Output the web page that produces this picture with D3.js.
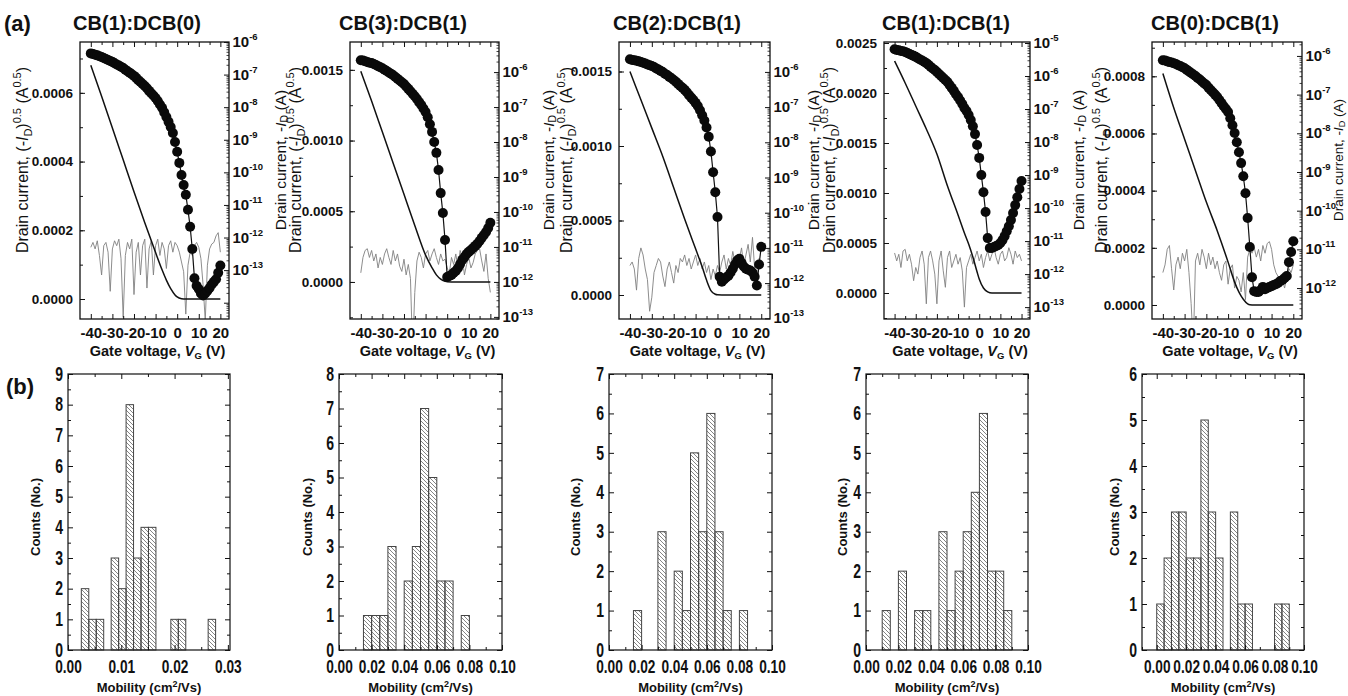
<!DOCTYPE html>
<html>
<head>
<meta charset="utf-8">
<script src="https://cdn.jsdelivr.net/npm/d3@7"></script>
<style>
  body { margin: 0; background: #fff; }
  svg { display: block; font-family: "Liberation Sans", Arial, sans-serif; }
</style>
</head>
<body>
<svg id="fig" width="1348" height="696"></svg>
<script>
// ---- data ----
const panelTitles = ['CB(1):DCB(0)', 'CB(3):DCB(1)', 'CB(2):DCB(1)', 'CB(1):DCB(1)', 'CB(0):DCB(1)'];

// gate sweep, V
const gateVoltage = [-40,-39,-38,-37,-36,-35,-34,-33,-32,-31,-30,-29,-28,-27,-26,-25,-24,-23,-22,-21,
  -20,-19,-18,-17,-16,-15,-14,-13,-12,-11,-10,-9,-8,-7,-6,-5,-4,-3,-2,-1,
  0,1,2,3,4,5,6,7,8,9,10,11,12,13,14,15,16,17,18,19,20];

// log10(-ID), circles, right axis
const logDrain1 = [-6.35,-6.37,-6.39,-6.41,-6.44,-6.46,-6.49,-6.52,-6.55,-6.58,
  -6.61,-6.65,-6.69,-6.72,-6.76,-6.80,-6.85,-6.90,-6.94,-6.99,
  -7.04,-7.10,-7.17,-7.23,-7.29,-7.35,-7.42,-7.50,-7.57,-7.64,
  -7.72,-7.81,-7.92,-8.02,-8.16,-8.30,-8.45,-8.61,-8.79,-9.07,
  -9.37,-9.71,-10.08,-10.39,-10.69,-11.15,-11.67,-12.35,-13.25,-13.48,
  -13.58,-13.72,-13.78,-13.72,-13.63,-13.55,-13.44,-13.36,-13.28,-13.08,-12.86];
const logDrain2 = [-5.66,-5.67,-5.69,-5.71,-5.73,-5.74,-5.77,-5.80,-5.83,-5.86,
  -5.89,-5.93,-5.97,-6.01,-6.05,-6.09,-6.14,-6.19,-6.24,-6.29,
  -6.34,-6.41,-6.48,-6.55,-6.62,-6.69,-6.77,-6.86,-6.94,-7.04,
  -7.14,-7.29,-7.49,-7.71,-8.00,-8.31,-8.80,-9.46,-10.03,-10.80,
  -11.86,-11.83,-11.80,-11.74,-11.69,-11.60,-11.49,-11.37,-11.29,-11.20,
  -11.14,-11.09,-11.03,-10.97,-10.91,-10.83,-10.74,-10.66,-10.57,-10.46,-10.31];
const logDrain3 = [-5.64,-5.66,-5.67,-5.68,-5.70,-5.72,-5.74,-5.76,-5.79,-5.81,
  -5.83,-5.86,-5.90,-5.93,-5.97,-6.00,-6.05,-6.09,-6.14,-6.18,
  -6.23,-6.28,-6.34,-6.40,-6.45,-6.51,-6.58,-6.66,-6.73,-6.80,
  -6.88,-6.97,-7.09,-7.23,-7.38,-7.58,-7.84,-8.26,-8.85,-9.42,
  -10.12,-11.82,-11.96,-11.90,-11.84,-11.79,-11.70,-11.59,-11.47,-11.36,
  -11.31,-11.42,-11.53,-11.59,-11.62,-11.64,-11.70,-11.82,-12.07,-11.47,-10.97];
const logDrain4 = [-5.19,-5.21,-5.22,-5.24,-5.25,-5.27,-5.30,-5.33,-5.36,-5.39,
  -5.42,-5.46,-5.50,-5.53,-5.57,-5.61,-5.66,-5.72,-5.77,-5.82,
  -5.88,-5.94,-6.00,-6.06,-6.12,-6.18,-6.27,-6.36,-6.45,-6.55,
  -6.64,-6.74,-6.85,-6.97,-7.06,-7.18,-7.33,-7.52,-7.76,-8.09,
  -8.48,-9.00,-9.52,-10.12,-10.91,-11.21,-11.21,-11.18,-11.15,-11.12,
  -11.06,-10.97,-10.85,-10.70,-10.55,-10.36,-10.15,-9.91,-9.67,-9.42,-9.18];
const logDrain5 = [-6.11,-6.12,-6.14,-6.16,-6.17,-6.19,-6.21,-6.24,-6.26,-6.29,
  -6.32,-6.36,-6.40,-6.44,-6.48,-6.52,-6.57,-6.61,-6.66,-6.71,
  -6.75,-6.82,-6.88,-6.94,-7.00,-7.06,-7.14,-7.22,-7.30,-7.37,
  -7.45,-7.61,-7.79,-7.99,-8.23,-8.49,-8.77,-9.11,-9.55,-10.19,
  -10.94,-11.72,-12.08,-12.10,-12.10,-12.05,-11.97,-12.03,-12.00,-11.97,
  -11.95,-11.92,-11.90,-11.87,-11.82,-11.79,-11.74,-11.69,-11.33,-11.07,-10.79];

// log10(|IG|), grey trace, right axis
const logGate1 = [-12.3,-12.15,-12.35,-12.1,-12.55,-13.15,-12.25,-12.15,-12.45,-13.65,
  -12.35,-12.1,-12.25,-12.05,-12.65,-14.45,-12.55,-12.15,-12.35,-12.05,
  -13.75,-12.45,-12.15,-13.15,-12.25,-12.05,-13.55,-12.35,-12.1,-13.15,
  -12.25,-12.05,-12.55,-12.15,-12.35,-12.95,-12.25,-12.1,-12.45,-12.15,
  -12.25,-12.45,-12.75,-13.05,-14.35,-12.85,-12.45,-12.55,-12.25,-12.15,
  -12.3,-12.65,-13.45,-14.55,-12.85,-12.35,-12.2,-12.15,-11.95,-11.85,-12.45];
const logGate2 = [-11.74,-11.3,-11.1,-11.05,-11.3,-11.1,-11.4,-11.2,-11.6,-11.3,
  -11.5,-11.2,-11.05,-11.3,-11.5,-11.1,-11.4,-11.2,-11.55,-11.7,
  -11.35,-11.8,-11.5,-11.9,-14.0,-12.3,-11.4,-11.15,-11.3,-11.6,
  -11.2,-11.1,-11.4,-11.2,-11.05,-11.3,-11.5,-11.2,-11.4,-11.35,
  -11.6,-11.75,-11.3,-11.5,-11.2,-11.6,-11.1,-11.3,-11.8,-11.5,
  -11.3,-11.6,-11.45,-11.2,-11.1,-11.05,-11.4,-11.7,-11.2,-11.9,-12.3];
const logGate3 = [-11.5,-11.4,-11.6,-12.2,-11.3,-11.0,-11.2,-11.6,-11.9,-12.8,
  -12.4,-11.7,-11.5,-11.3,-11.4,-11.8,-12.1,-11.6,-11.4,-11.7,
  -12.0,-11.5,-11.7,-11.3,-11.4,-11.2,-11.5,-11.3,-11.6,-11.4,
  -11.2,-11.5,-11.3,-11.6,-11.4,-11.7,-11.5,-11.9,-11.6,-11.8,
  -11.5,-11.7,-11.4,-11.2,-11.6,-11.3,-11.5,-11.1,-11.4,-11.6,
  -11.3,-11.0,-11.5,-11.2,-10.9,-11.4,-10.7,-11.6,-12.0,-11.3,-11.5];
const logGate4 = [-11.36,-11.6,-11.4,-11.8,-11.3,-11.25,-11.6,-11.4,-11.7,-12.2,
  -11.8,-12.0,-11.5,-11.3,-11.7,-12.9,-11.5,-11.3,-11.6,-12.0,
  -12.9,-11.6,-11.3,-11.9,-12.4,-11.5,-11.3,-11.8,-11.6,-11.4,
  -11.7,-11.5,-11.9,-13.0,-11.8,-11.6,-11.4,-11.7,-11.5,-11.3,
  -11.6,-11.4,-11.8,-11.5,-11.3,-11.6,-11.4,-11.2,-11.5,-11.7,
  -11.4,-11.3,-11.6,-11.5,-11.2,-11.4,-11.7,-11.3,-11.5,-11.4,-11.6];
const logGate5 = [-11.6,-11.4,-11.0,-10.9,-11.5,-12.05,-11.4,-11.2,-11.5,-11.1,
  -11.3,-11.0,-11.6,-12.4,-13.5,-11.3,-11.1,-11.4,-11.0,-11.2,
  -11.5,-11.1,-11.4,-11.2,-11.5,-11.3,-11.6,-11.8,-11.4,-11.3,
  -11.9,-11.5,-11.4,-12.0,-11.7,-11.8,-12.1,-11.6,-12.3,-11.2,
  -11.0,-11.1,-10.95,-11.2,-11.0,-11.3,-10.9,-11.1,-10.85,-10.8,
  -11.0,-11.4,-11.6,-11.7,-11.9,-11.8,-12.0,-11.7,-11.5,-11.6,-11.4];

// (-ID)^0.5 solid line, left axis, sampled at sqrtVoltage
const sqrtVoltage = [-40,-35,-30,-25,-20,-15,-10,-7,-5,-3,-1,0,2,4,6,20];
const sqrtDrain1 = [0.00068,0.00059,0.000498,0.000405,0.000312,0.000222,0.000135,0.000085,0.000055,0.00003,0.000012,0.000006,0.000001,0,0,0];
const sqrtDrain2 = [0.00149,0.00128,0.00106,0.00084,0.00062,0.0004,0.00019,0.0001,0.00005,0.00002,0.000005,0.000001,0,0,0,0];
const sqrtDrain3 = [0.0015,0.00131,0.00112,0.00093,0.00072,0.00051,0.00031,0.00019,0.0001,0.00003,0.000005,0.000001,0,0,0,0];
const sqrtDrain4 = [0.00232,0.0021,0.00187,0.00164,0.00139,0.00107,0.00078,0.0006,0.00049,0.00036,0.00021,0.00014,0.00005,0.000012,0,0];
const sqrtDrain5 = [0.00081,0.00069,0.00058,0.00047,0.00036,0.00026,0.00015,0.00008,0.000045,0.00002,0.000004,0.000001,0,0,0,0];

const gateTicks = [-40,-30,-20,-10,0,10,20];
const sqrtTicks1 = [0,0.0002,0.0004,0.0006];
const sqrtTicks2 = [0,0.0005,0.0010,0.0015];
const sqrtTicks3 = [0,0.0005,0.0010,0.0015];
const sqrtTicks4 = [0,0.0005,0.0010,0.0015,0.0020,0.0025];
const sqrtTicks5 = [0,0.0002,0.0004,0.0006,0.0008];
const decadeLabels1 = [-13,-12,-11,-10,-9,-8,-7,-6];
const decadeLabels2 = [-13,-12,-11,-10,-9,-8,-7,-6];
const decadeLabels3 = [-13,-12,-11,-10,-9,-8,-7,-6];
const decadeLabels4 = [-13,-12,-11,-10,-9,-8,-7,-6,-5];
const decadeLabels5 = [-12,-11,-10,-9,-8,-7,-6];

// mobility histograms
const histCounts1 = [2,1,1,0,3,2,8,3,4,4,0,0,1,1,0,0,0,1];
const histCounts2 = [1,1,1,3,0,2,3,7,5,2,2,0,1];
const histCounts3 = [1,0,0,3,0,2,1,5,3,6,3,1,0,1];
const histCounts4 = [1,0,2,0,1,1,0,3,1,2,3,4,6,2,2,1];
const histCounts5 = [1,2,3,3,2,2,5,3,2,0,3,1,1,0,0,0,1,1];
const binStart = [0.0025, 0.015, 0.015, 0.010, 0.000];
const binWidth = [0.0014, 0.005, 0.005, 0.005, 0.005];
const mobilityTicks1 = [0, 0.01, 0.02, 0.03];
const mobilityTicks = [0, 0.02, 0.04, 0.06, 0.08, 0.10];

// ---- layout ----
const svg = d3.select('#fig');
const defs = svg.append('defs');
defs.append('pattern').attr('id', 'hatch')
  .attr('patternUnits', 'userSpaceOnUse').attr('width', 4).attr('height', 4)
  .append('path').attr('d', 'M-1,-1L5,5M-1,3L1,5M3,-1L5,1')
  .attr('stroke', '#666').attr('stroke-width', 0.8);

const TOP = 42, BOT = 319;
const HT = 374, HB = 650;

const transfers = [
  { x0: 80,   x1: 229,  lin: [-0.0000582, 0.000748], minor: 0.0001,  log: [-14.5, -6],     titleX: 137,  leftLab: 22,   rightLab: 280,  rightSize: 15.5,
    drain: logDrain1, gate: logGate1, sqrt: sqrtDrain1, ticks: sqrtTicks1, decades: decadeLabels1 },
  { x0: 350,  x1: 499,  lin: [-0.000262, 0.001697],  minor: 0.00025, log: [-13.06, -5.14], titleX: 403,  leftLab: 295,  rightLab: 548,  rightSize: 15.5,
    drain: logDrain2, gate: logGate2, sqrt: sqrtDrain2, ticks: sqrtTicks2, decades: decadeLabels2 },
  { x0: 619,  x1: 770,  lin: [-0.000161, 0.001698],  minor: 0.00025, log: [-13.02, -5.15], titleX: 677,  leftLab: 566,  rightLab: 813,  rightSize: 15.5,
    drain: logDrain3, gate: logGate3, sqrt: sqrtDrain3, ticks: sqrtTicks3, decades: decadeLabels3 },
  { x0: 884,  x1: 1030, lin: [-0.00026, 0.00251],    minor: 0.00025, log: [-13.36, -4.97], titleX: 946,  leftLab: 829,  rightLab: 1078, rightSize: 15.5,
    drain: logDrain4, gate: logGate4, sqrt: sqrtDrain4, ticks: sqrtTicks4, decades: decadeLabels4 },
  { x0: 1152, x1: 1302, lin: [-0.000049, 0.00092],   minor: 0.0001,  log: [-12.8, -5.64],  titleX: 1215, leftLab: 1101, rightLab: 1338, rightSize: 13.5,
    drain: logDrain5, gate: logGate5, sqrt: sqrtDrain5, ticks: sqrtTicks5, decades: decadeLabels5 }
];

const hists = [
  { x0: 68,   x1: 230,  xdom: [0, 0.0304], ymax: 9, counts: histCounts1, ticks: mobilityTicks1, minor: 0.005, labX: 35 },
  { x0: 339,  x1: 502,  xdom: [0, 0.10],   ymax: 8, counts: histCounts2, ticks: mobilityTicks,  minor: 0.01,  labX: 307 },
  { x0: 609,  x1: 772,  xdom: [0, 0.10],   ymax: 7, counts: histCounts3, ticks: mobilityTicks,  minor: 0.01,  labX: 575 },
  { x0: 866,  x1: 1028, xdom: [0, 0.10],   ymax: 7, counts: histCounts4, ticks: mobilityTicks,  minor: 0.01,  labX: 842 },
  { x0: 1142, x1: 1304, xdom: [-0.01, 0.10], ymax: 6, counts: histCounts5, ticks: mobilityTicks, minor: 0.01, labX: 1114 }
];

function styleAxis(sel, size, weight) {
  sel.select('.domain').remove();
  sel.selectAll('line').attr('stroke', '#111');
  sel.selectAll('text').attr('fill', '#111')
    .style('font-size', size + 'px').style('font-weight', weight)
    .style('font-family', '"Liberation Sans", Arial, sans-serif');
}

// squeeze axis labels horizontally (the histogram labels use a condensed face)
function narrowText(sel, s) {
  sel.selectAll('text').each(function () {
    const t = d3.select(this);
    const x = +t.attr('x') || 0;
    t.attr('x', x / s).attr('transform', `scale(${s},1)`);
  });
}

function minorRange(lo, hi, step) {
  const out = [];
  for (let v = Math.ceil(lo / step) * step; v <= hi + 1e-12; v += step) out.push(+v.toFixed(8));
  return out;
}

function drawTransfer(p, k) {
  const g = svg.append('g');
  const x = d3.scaleLinear().domain([-45, 24]).range([p.x0, p.x1]);
  const yL = d3.scaleLinear().domain(p.lin).range([BOT, TOP]);
  const yR = d3.scaleLog().domain([Math.pow(10, p.log[0]), Math.pow(10, p.log[1])]).range([BOT, TOP]);

  const clipId = 'clipT' + k;
  defs.append('clipPath').attr('id', clipId).append('rect')
    .attr('x', p.x0).attr('y', TOP).attr('width', p.x1 - p.x0).attr('height', BOT - TOP);
  const plot = g.append('g').attr('clip-path', `url(#${clipId})`);

  // gate leakage (grey)
  plot.append('path').datum(p.gate)
    .attr('fill', 'none').attr('stroke', '#808080').attr('stroke-width', 0.9)
    .attr('d', d3.line().x((d, i) => x(gateVoltage[i])).y(d => yR(Math.pow(10, d))));

  // sqrt(-ID) (solid black line)
  plot.append('path').datum(p.sqrt)
    .attr('fill', 'none').attr('stroke', '#111').attr('stroke-width', 1.5)
    .attr('d', d3.line().curve(d3.curveMonotoneX).x((d, i) => x(sqrtVoltage[i])).y(d => yL(d)));

  // log(-ID) with circles
  plot.append('path').datum(p.drain)
    .attr('fill', 'none').attr('stroke', '#111').attr('stroke-width', 1.2)
    .attr('d', d3.line().x((d, i) => x(gateVoltage[i])).y(d => yR(Math.pow(10, d))));
  plot.selectAll('circle').data(p.drain).join('circle')
    .attr('cx', (d, i) => x(gateVoltage[i]))
    .attr('cy', d => yR(Math.pow(10, d)))
    .attr('r', 5).attr('fill', '#0a0a0a');

  // frame
  g.append('rect').attr('x', p.x0).attr('y', TOP).attr('width', p.x1 - p.x0).attr('height', BOT - TOP)
    .attr('fill', 'none').attr('stroke', '#111').attr('stroke-width', 1.3);

  // left axis
  const la = g.append('g').attr('transform', `translate(${p.x0},0)`)
    .call(d3.axisLeft(yL).tickValues(p.ticks).tickSize(-5).tickPadding(7).tickFormat(d3.format('.4f')));
  styleAxis(la, 13.5, 'bold');
  const lm = g.append('g').attr('transform', `translate(${p.x0},0)`)
    .call(d3.axisLeft(yL).tickValues(minorRange(p.lin[0], p.lin[1], p.minor)).tickSize(-3).tickFormat(''));
  styleAxis(lm, 10, 'normal');

  // right log axis
  const majors = [], minors = [];
  for (let e = Math.floor(p.log[0]); e <= Math.ceil(p.log[1]); e++) {
    for (let m = 1; m < 10; m++) {
      const v = m * Math.pow(10, e), lv = Math.log10(v);
      if (lv < p.log[0] || lv > p.log[1]) continue;
      (m === 1 ? majors : minors).push(v);
    }
  }
  const ra = g.append('g').attr('transform', `translate(${p.x1},0)`)
    .call(d3.axisRight(yR).tickValues(majors).tickSize(-5).tickFormat(''));
  styleAxis(ra, 10, 'normal');
  const rm = g.append('g').attr('transform', `translate(${p.x1},0)`)
    .call(d3.axisRight(yR).tickValues(minors).tickSize(-2.5).tickFormat(''));
  styleAxis(rm, 10, 'normal');
  rm.selectAll('line').attr('stroke-width', 0.8);
  p.decades.forEach(e => {
    const t = g.append('text').attr('x', p.x1 + 3.5).attr('y', yR(Math.pow(10, e)) + 5)
      .attr('font-weight', 'bold').attr('fill', '#111');
    t.append('tspan').attr('font-size', 15).text('10');
    t.append('tspan').attr('font-size', 9.5).attr('dy', -7).text(String(e));
  });

  // x axis
  const xa = g.append('g').attr('transform', `translate(0,${BOT})`)
    .call(d3.axisBottom(x).tickValues(gateTicks).tickSize(-5).tickPadding(8).tickFormat(d => String(d)));
  styleAxis(xa, 15, 'bold');
  const xm = g.append('g').attr('transform', `translate(0,${BOT})`)
    .call(d3.axisBottom(x).tickValues([-35, -25, -15, -5, 5, 15]).tickSize(-3).tickFormat(''));
  styleAxis(xm, 10, 'normal');
  const xt = g.append('g').attr('transform', `translate(0,${TOP})`)
    .call(d3.axisTop(x).tickValues(gateTicks).tickSize(-5).tickFormat(''));
  styleAxis(xt, 10, 'normal');
  const xtm = g.append('g').attr('transform', `translate(0,${TOP})`)
    .call(d3.axisTop(x).tickValues([-35, -25, -15, -5, 5, 15]).tickSize(-3).tickFormat(''));
  styleAxis(xtm, 10, 'normal');

  // title
  g.append('text').attr('x', p.titleX).attr('y', 30).attr('text-anchor', 'middle')
    .attr('font-size', 20).attr('font-weight', 'bold').attr('fill', '#111').text(panelTitles[k]);

  // x label
  const gl = g.append('text').attr('x', (p.x0 + p.x1) / 2 + 3).attr('y', 356).attr('text-anchor', 'middle')
    .attr('font-size', 14.5).attr('font-weight', 'bold').attr('fill', '#111');
  gl.append('tspan').text('Gate voltage, ');
  gl.append('tspan').attr('font-style', 'italic').text('V');
  gl.append('tspan').attr('font-size', 9.5).attr('dy', 3).text('G');
  gl.append('tspan').attr('dy', -3).text(' (V)');

  // left y label
  const yl = g.append('text').attr('transform', `translate(${p.leftLab + 6},160) rotate(-90)`)
    .attr('text-anchor', 'middle').attr('font-size', 16).attr('fill', '#111');
  yl.append('tspan').text('Drain current, (-');
  yl.append('tspan').attr('font-style', 'italic').text('I');
  yl.append('tspan').attr('font-size', 11).attr('dy', 4).text('D');
  yl.append('tspan').attr('dy', -4).text(')');
  yl.append('tspan').attr('font-size', 11).attr('dy', -7).text('0.5');
  yl.append('tspan').attr('dy', 7).text(' (A');
  yl.append('tspan').attr('font-size', 11).attr('dy', -7).text('0.5');
  yl.append('tspan').attr('dy', 7).text(')');

  // right y label
  const sz = p.rightSize;
  const yr = g.append('text').attr('transform', `translate(${p.rightLab + sz * 0.36},160) rotate(-90)`)
    .attr('text-anchor', 'middle').attr('font-size', sz).attr('fill', '#111');
  yr.append('tspan').text('Drain current, -');
  yr.append('tspan').attr('font-style', 'italic').text('I');
  yr.append('tspan').attr('font-size', sz * 0.68).attr('dy', 2.5).text('D');
  yr.append('tspan').attr('dy', -2.5).text(' (A)');
}

function drawHist(h, k) {
  const g = svg.append('g');
  const x = d3.scaleLinear().domain(h.xdom).range([h.x0, h.x1]);
  const y = d3.scaleLinear().domain([0, h.ymax]).range([HB, HT]);

  g.selectAll('rect.bar').data(h.counts.map((c, i) => ({ c, i })).filter(d => d.c > 0)).join('rect')
    .attr('class', 'bar')
    .attr('x', d => x(binStart[k] + d.i * binWidth[k]))
    .attr('width', d => x(binStart[k] + (d.i + 1) * binWidth[k]) - x(binStart[k] + d.i * binWidth[k]))
    .attr('y', d => y(d.c))
    .attr('height', d => y(0) - y(d.c))
    .attr('fill', 'url(#hatch)').attr('stroke', '#444').attr('stroke-width', 1);

  g.append('rect').attr('x', h.x0).attr('y', HT).attr('width', h.x1 - h.x0).attr('height', HB - HT)
    .attr('fill', 'none').attr('stroke', '#222').attr('stroke-width', 1.3);

  const yTicks = d3.range(0, h.ymax + 1);
  const yMinor = d3.range(0.5, h.ymax, 1);
  const ya = g.append('g').attr('transform', `translate(${h.x0},0)`)
    .call(d3.axisLeft(y).tickValues(yTicks).tickSize(-5).tickPadding(5).tickFormat(d3.format('d')));
  styleAxis(ya, 19.5, 'bold');
  narrowText(ya, 0.72);
  [[d3.axisLeft, h.x0, yMinor, -3], [d3.axisRight, h.x1, yTicks, -5], [d3.axisRight, h.x1, yMinor, -3]].forEach(([ax, tx, vals, sz]) => {
    const s = g.append('g').attr('transform', `translate(${tx},0)`)
      .call(ax(y).tickValues(vals).tickSize(sz).tickFormat(''));
    styleAxis(s, 10, 'normal');
  });

  const xMinor = minorRange(h.xdom[0], h.xdom[1], h.minor).filter(v => !h.ticks.some(t => Math.abs(t - v) < 1e-9));
  const xa = g.append('g').attr('transform', `translate(0,${HB})`)
    .call(d3.axisBottom(x).tickValues(h.ticks).tickSize(-5).tickPadding(10).tickFormat(d3.format('.2f')));
  styleAxis(xa, 19, 'bold');
  narrowText(xa, 0.72);
  [[d3.axisBottom, HB, xMinor, -3], [d3.axisTop, HT, h.ticks, -5], [d3.axisTop, HT, xMinor, -3]].forEach(([ax, ty, vals, sz]) => {
    const s = g.append('g').attr('transform', `translate(0,${ty})`)
      .call(ax(x).tickValues(vals).tickSize(sz).tickFormat(''));
    styleAxis(s, 10, 'normal');
  });

  const ml = g.append('text').attr('x', (h.x0 + h.x1) / 2).attr('y', 692).attr('text-anchor', 'middle')
    .attr('font-size', 13).attr('font-weight', 'bold').attr('fill', '#111');
  ml.append('tspan').text('Mobility (cm');
  ml.append('tspan').attr('font-size', 9).attr('dy', -5).text('2');
  ml.append('tspan').attr('dy', 5).text('/Vs)');

  g.append('text').attr('transform', `translate(${h.labX + 5},517) rotate(-90)`)
    .attr('text-anchor', 'middle').attr('font-size', 13).attr('font-weight', 'bold').attr('fill', '#111')
    .text('Counts (No.)');
}

transfers.forEach(drawTransfer);
hists.forEach(drawHist);

svg.append('text').attr('x', 4).attr('y', 31).attr('font-size', 22).attr('font-weight', 'bold').attr('fill', '#111').text('(a)');
svg.append('text').attr('x', 6).attr('y', 394).attr('font-size', 22).attr('font-weight', 'bold').attr('fill', '#111').text('(b)');
</script>
</body>
</html>
